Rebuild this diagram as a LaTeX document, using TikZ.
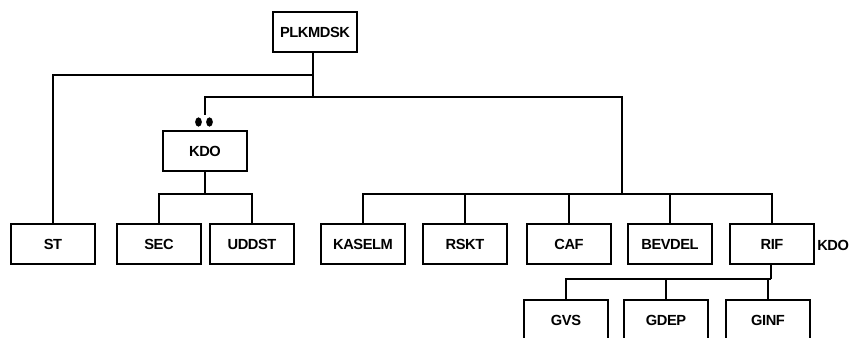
\documentclass[tikz,border=0pt]{standalone}
\usepackage{fontspec}
\setmainfont{Liberation Sans}
\newfontfamily\tightfont[LetterSpace=-3]{Liberation Sans}
\usetikzlibrary{shapes.geometric}
\begin{document}
\begin{tikzpicture}[x=0.75pt,y=-0.75pt,
  box/.style={draw,line width=1.5pt,minimum width=63pt,minimum height=30pt,inner sep=0pt,
    font=\tightfont\fontsize{11}{13}\selectfont\bfseries},
  lab/.style={inner sep=0pt,font=\tightfont\fontsize{11}{13}\selectfont\bfseries},
  conn/.style={line width=1.5pt},
  dot/.style={fill=black,ellipse,minimum width=5pt,minimum height=7pt,inner sep=0pt}]
\useasboundingbox (0,0) rectangle (852,338);
\clip (0,0) rectangle (852,338);
\node[box] (plk) at (315,32) {PLKMDSK};
\node[box] (kdo) at (205,151) {KDO};
\node[box] (st) at (53,244) {ST};
\node[box] (sec) at (159,244) {SEC};
\node[box] (uddst) at (252,244) {UDDST};
\node[box] (kaselm) at (363,244) {KASELM};
\node[box] (rskt) at (465,244) {RSKT};
\node[box] (caf) at (569,244) {CAF};
\node[box] (bevdel) at (670,244) {BEVDEL};
\node[box] (rif) at (772,244) {RIF};
\node[box] (gvs) at (566,320) {GVS};
\node[box] (gdep) at (666,320) {GDEP};
\node[box] (ginf) at (768,320) {GINF};
\node[lab,anchor=west] (kdolab) at (817,245) {KDO};
\node[dot] (d1) at (198.5,122) {};
\node[dot] (d2) at (209.5,122) {};
\coordinate (j1) at (313,75);
\coordinate (j2) at (313,97);
\coordinate (j3) at (622,194);
\coordinate (kt) at (205,115);
\coordinate (k1) at (205,194);
\coordinate (r1) at (771,279);
\draw[conn] (plk.south -| j2) -- (j2);
\draw[conn] (j1) -| (st.north);
\draw[conn] (j2) -| (kt);
\draw[conn] (j2) -| (j3);
\draw[conn] (kaselm.north) |- (j3) -| (rif.north);
\draw[conn] (rskt.north) -- (rskt.north |- j3);
\draw[conn] (caf.north) -- (caf.north |- j3);
\draw[conn] (bevdel.north) -- (bevdel.north |- j3);
\draw[conn] (kdo.south) -- (k1);
\draw[conn] (sec.north) |- (k1) -| (uddst.north);
\draw[conn] (rif.south -| r1) -- (r1);
\draw[conn] (gvs.north) |- (r1);
\draw[conn] (gdep.north) -- (gdep.north |- r1);
\draw[conn] (ginf.north) -- (ginf.north |- r1);
\end{tikzpicture}
\end{document}
